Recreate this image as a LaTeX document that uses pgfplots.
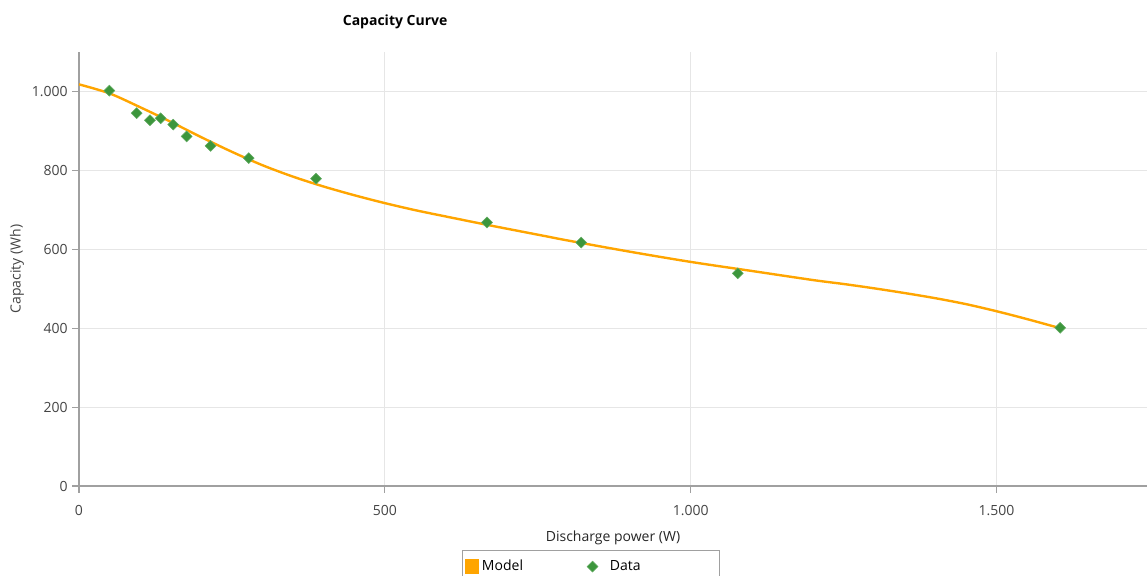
\documentclass[border=0pt]{standalone}
\usepackage{fontspec}
\setmainfont{Open Sans}
\usepackage{pgfplots}
\pgfplotsset{compat=1.18}
\definecolor{modelorange}{RGB}{255,165,0}
\definecolor{datagreen}{RGB}{60,150,60}
\definecolor{gridgray}{RGB}{230,230,230}
\definecolor{axisgray}{RGB}{160,160,160}
\definecolor{labelgray}{RGB}{68,68,68}
\begin{document}
\begin{tikzpicture}
\begin{axis}[
  scale only axis,
  width=801pt, height=325.5pt,
  xmin=0, xmax=1746, ymin=0, ymax=1100,
  axis lines=left,
  axis line style={-, axisgray, line width=1.2pt},
  xtick={0,500,1000,1500},
  ytick={0,200,400,600,800,1000},
  grid=major,
  major grid style={gridgray, line width=0.8pt},
  tick style={axisgray, line width=0.8pt},
  tick align=outside,
  major tick length=5pt,
  /pgf/number format/1000 sep={.},
  /pgf/number format/assume math mode=true,
  ticklabel style={font=\fontsize{10.5}{12}\selectfont, text=labelgray},
  xticklabel style={yshift=-6pt},
  xlabel={Discharge power (W)},
  ylabel={Capacity (Wh)},
  xlabel style={at={(axis description cs:0.5,-0.12)}, anchor=center, font=\fontsize{10.5}{12}\selectfont, text=black!85},
  ylabel style={at={(axis description cs:-0.0581,0.5)}, anchor=center, font=\fontsize{10.5}{12}\selectfont, text=labelgray},
  title={\bfseries Capacity Curve},
  title style={at={(axis description cs:0.296,1.0507)}, anchor=center, font=\fontsize{10.5}{12}\selectfont},
  legend columns=2,
  legend cell align=left,
  legend style={at={(axis description cs:0.3586,-0.1475)}, anchor=north west,
    draw=axisgray, font=\fontsize{10.5}{12}\selectfont, inner xsep=2pt, inner ysep=5.5pt,
    /tikz/every even column/.append style={column sep=46pt}},
]
\addplot[modelorange, line width=1.8pt, smooth,
  legend image code/.code={\fill[modelorange] (0pt,-4.5pt) rectangle (9pt,4.5pt);}]
  coordinates {
  (0,1018) (50,995) (100,960) (150,923) (200,884) (250,847) (300,813)
  (350,784) (400,759) (450,737) (500,717) (550,699) (600,683) (667,662)
  (700,652) (770,631) (800,622) (900,594) (1000,568) (1100,545) (1200,522)
  (1250,512) (1300,501) (1350,489) (1400,476) (1450,461) (1500,443)
  (1550,423) (1604,400)
  };
\addlegendentry{Model}
\addplot[only marks, mark=square*, mark size=2.9pt,
  mark options={rotate=45, fill=datagreen, draw=datagreen!80!white, line width=0.4pt}]
  coordinates {
  (49.6,1002) (94.3,945) (116,927) (133.5,932) (154,916) (176,886)
  (215,862) (277.5,831) (387.5,779) (667,668) (821,617) (1077,539) (1604,401)
  };
\addlegendentry{\hspace*{7pt}Data\hspace*{55pt}}
\path (rel axis cs:0,0) ++(-59.25pt,-66.75pt) coordinate (BL);
\path (rel axis cs:1,1) ++(0pt,39pt) coordinate (TR);
\end{axis}
\pgfresetboundingbox
\path (BL) rectangle (TR);
\end{tikzpicture}
\end{document}
